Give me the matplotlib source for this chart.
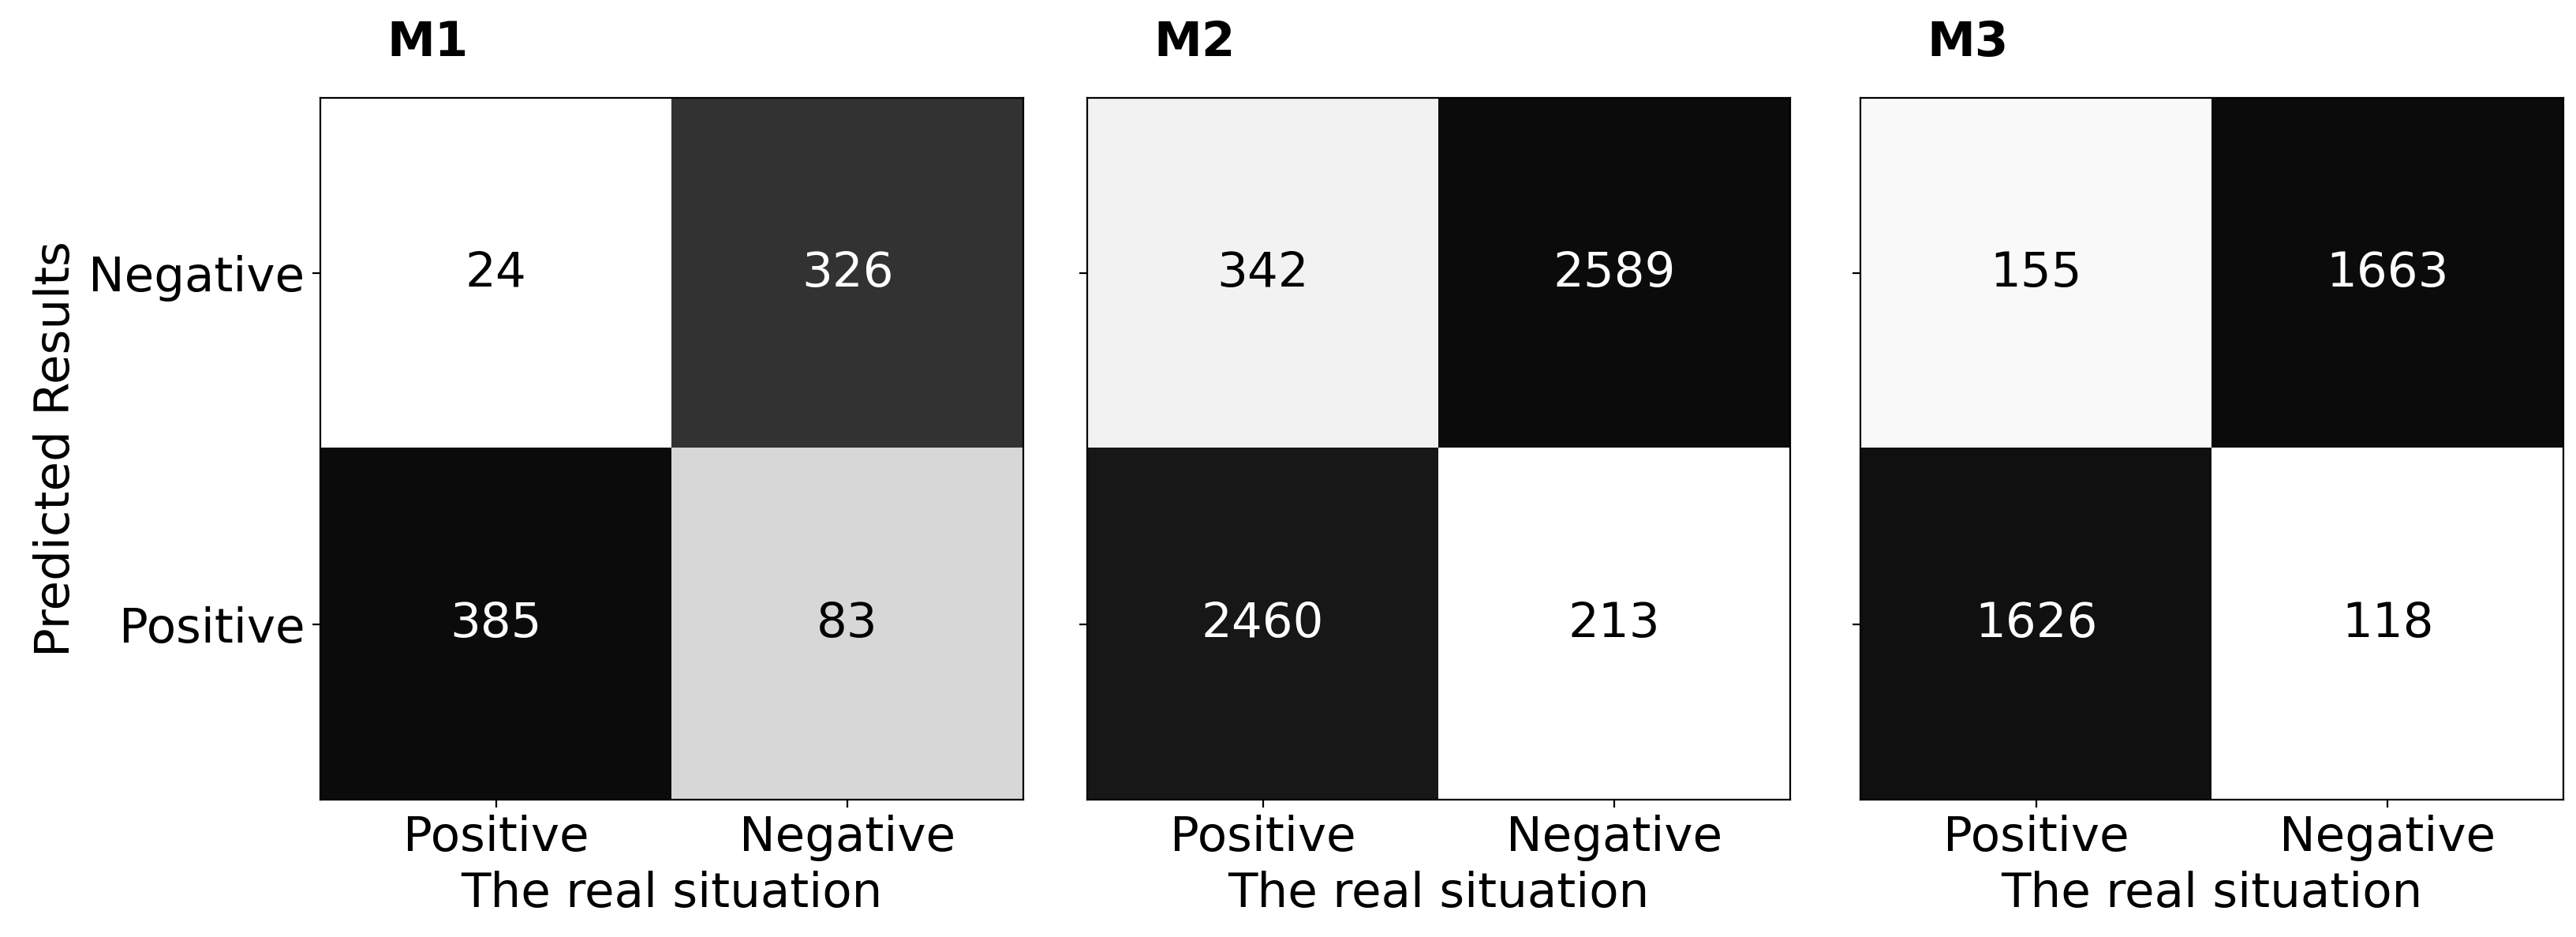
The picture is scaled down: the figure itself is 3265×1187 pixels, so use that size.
import numpy as np
import matplotlib
matplotlib.use("Agg")
import matplotlib.pyplot as plt
from matplotlib.colors import LinearSegmentedColormap

titles = ["M1", "M2", "M3"]
row_labels = ["Negative", "Positive"]
col_labels = ["Positive", "Negative"]
m1 = [[24, 326], [385, 83]]
m2 = [[342, 2589], [2460, 213]]
m3 = [[155, 1663], [1626, 118]]
mats = [m1, m2, m3]

plt.rcParams['font.family'] = 'DejaVu Sans'
plt.rcParams['font.size'] = 22

# white -> near black, like gray_r but the darkest cell is not pure black
cmap = LinearSegmentedColormap.from_list("grey_w", ["#ffffff", "#0b0b0b"])

fig = plt.figure(figsize=(16.33, 5.935), dpi=200)
lefts = [0.1243, 0.4219, 0.722]
axes = [fig.add_axes([l, 0.1466, 0.2728, 0.749]) for l in lefts]

for ax, m, t in zip(axes, mats, titles):
    cm = np.array(m)
    ax.imshow(cm, cmap=cmap, vmin=cm.min(), vmax=cm.max(), aspect='auto')
    thresh = (cm.max() + cm.min()) / 2
    for i in range(2):
        for j in range(2):
            c = 'white' if cm[i, j] > thresh else 'black'
            ax.text(j, i, str(cm[i, j]), ha='center', va='center', color=c, fontsize=22)
    ax.set_xticks([0, 1])
    ax.set_xticklabels(col_labels)
    ax.set_yticks([0, 1])
    ax.set_xlabel("The real situation")
    ax.text(0.095, 1.045, t, transform=ax.transAxes, fontweight='bold', fontsize=22,
            ha='left', va='bottom')
    if ax is axes[0]:
        ax.set_yticklabels(row_labels)
        ax.set_ylabel("Predicted Results")
    else:
        ax.set_yticklabels([])

fig.savefig("out.png", dpi=200)
